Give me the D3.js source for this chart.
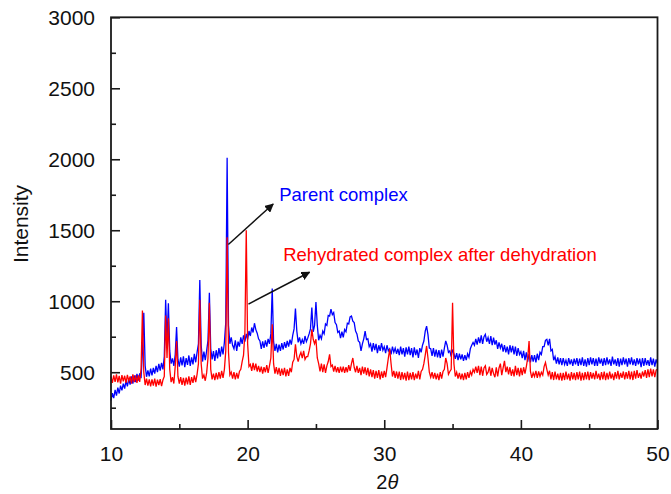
<!DOCTYPE html>
<html>
<head>
<meta charset="utf-8">
<script src="https://cdn.jsdelivr.net/npm/d3@7/dist/d3.min.js"></script>
<style>
  body { margin: 0; background: #fff; }
  text { font-family: "Liberation Sans", Arial, sans-serif; }
</style>
</head>
<body>
<script>
// scan grid (degrees 2-theta)
var angleStart = 10;
var angleStep = 0.1;

// parent complex, intensity every 0.1 deg from 10.0 to 50.0
var parentIntensity = [
  300, 352, 318, 375, 335, 392, 350, 405, 372, 420,
  385, 440, 400, 455, 412, 470, 420, 478, 430, 488,
  440, 492, 458, 640, 918, 545, 468, 512, 470, 525,
  478, 530, 490, 545, 500, 558, 512, 565, 520, 610,
  1010, 720, 985, 650, 560, 598, 545, 625, 818, 590,
  540, 605, 548, 612, 535, 600, 552, 618, 545, 605,
  555, 630, 570, 640, 700, 1150, 690, 575, 645, 585,
  650, 725, 1060, 665, 590, 648, 580, 655, 598, 670,
  610, 680, 625, 710, 850, 2010, 830, 700, 745, 690,
  665, 725, 650, 715, 680, 745, 700, 760, 715, 770,
  730, 790, 755, 815, 780, 845, 800, 775, 735, 720,
  665, 718, 672, 725, 680, 735, 700, 770, 1090, 715,
  650, 700, 640, 695, 650, 705, 660, 712, 672, 720,
  680, 730, 695, 760, 805, 948, 790, 710, 745, 700,
  730, 700, 755, 715, 740, 770, 805, 955, 785, 830,
  994, 830, 725, 760, 735, 790, 770, 840, 830, 900,
  895, 945, 905, 920, 850, 835, 780, 790, 740, 785,
  745, 800, 785, 845, 840, 890, 896, 860, 850, 790,
  770, 720, 710, 650, 700, 735, 790, 730, 735, 680,
  700, 645, 705, 655, 700, 635, 690, 650, 705, 655,
  680, 635, 690, 650, 665, 625, 680, 640, 670, 630,
  665, 620, 680, 625, 670, 610, 675, 625, 680, 620,
  670, 605, 675, 620, 660, 600, 670, 640, 690, 720,
  790, 825, 765, 670, 665, 615, 670, 610, 660, 605,
  655, 600, 660, 610, 670, 720, 690, 640, 650, 610,
  660, 630, 595, 635, 585, 630, 590, 625, 580, 620,
  585, 630, 605, 665, 690, 710, 690, 735, 695, 745,
  705, 760, 700, 750, 767, 715, 745, 700, 755, 690,
  744, 695, 725, 665, 710, 670, 700, 645, 690, 640,
  680, 625, 690, 640, 685, 625, 680, 615, 670, 625,
  645, 600, 650, 585, 640, 575, 630, 570, 620, 575,
  620, 570, 630, 585, 640, 625, 680, 680, 725, 732,
  690, 735, 650, 660, 585, 610, 560, 605, 555, 600,
  550, 600, 555, 585, 545, 600, 555, 590, 545, 595,
  555, 600, 545, 595, 550, 605, 545, 590, 540, 600,
  550, 605, 555, 600, 545, 595, 545, 605, 560, 595,
  545, 600, 550, 605, 555, 590, 545, 610, 555, 590,
  545, 600, 540, 595, 550, 605, 555, 595, 540, 600,
  555, 605, 550, 590, 545, 600, 555, 595, 535, 600,
  545, 600, 550, 585, 545, 605, 550, 595, 540, 590,
  560
];

// rehydrated complex after dehydration, same grid
var rehydratedIntensity = [
  470, 425, 478, 432, 485, 428, 475, 420, 480, 435,
  475, 425, 482, 438, 470, 420, 485, 430, 478, 425,
  478, 432, 520, 935, 500, 410, 455, 405, 450, 400,
  450, 405, 455, 398, 448, 410, 452, 402, 445, 470,
  900, 600, 880, 520, 430, 465, 420, 540, 720, 470,
  420, 465, 410, 460, 405, 462, 415, 470, 410, 465,
  425, 478, 430, 485, 560, 1010, 560, 455, 480, 440,
  495, 600, 990, 520, 450, 490, 445, 495, 450, 500,
  455, 510, 460, 520, 650, 1450, 640, 480, 500, 455,
  500, 450, 495, 455, 505, 520, 575, 620, 780, 1500,
  700, 540, 555, 510, 565, 515, 560, 505, 545, 500,
  540, 490, 535, 500, 550, 495, 545, 600, 837, 560,
  490, 535, 485, 530, 475, 525, 480, 530, 470, 520,
  475, 530, 500, 570, 590, 697, 610, 575, 615, 640,
  600, 650, 590, 610, 610, 650, 700, 802, 732, 700,
  732, 600, 560, 505, 560, 500, 555, 495, 545, 575,
  626, 540, 550, 505, 545, 500, 535, 495, 540, 500,
  540, 495, 535, 500, 550, 510, 560, 600, 535, 500,
  545, 495, 530, 480, 540, 490, 535, 480, 530, 470,
  520, 465, 515, 455, 510, 460, 515, 450, 505, 460,
  510, 465, 530, 600, 662, 560, 470, 510, 460, 505,
  455, 505, 445, 500, 450, 495, 440, 505, 445, 495,
  450, 500, 445, 490, 455, 510, 450, 505, 520, 560,
  620, 685, 600, 500, 465, 500, 455, 495, 450, 490,
  445, 500, 455, 505, 520, 600, 560, 485, 505, 520,
  990, 560, 470, 500, 455, 495, 450, 490, 445, 495,
  450, 500, 460, 505, 480, 520, 500, 540, 495, 545,
  480, 540, 475, 530, 545, 485, 500, 540, 475, 530,
  490, 465, 535, 470, 530, 560, 480, 530, 580, 500,
  540, 485, 535, 475, 520, 470, 545, 480, 530, 470,
  530, 480, 535, 490, 540, 600, 720, 505, 460, 495,
  470, 510, 460, 505, 470, 500, 480, 540, 568, 520,
  480, 510, 450, 500, 445, 505, 450, 490, 445, 495,
  440, 495, 445, 505, 450, 490, 440, 500, 450, 495,
  445, 500, 450, 505, 440, 495, 445, 500, 450, 505,
  445, 500, 455, 495, 450, 510, 455, 490, 445, 500,
  450, 505, 445, 495, 450, 505, 455, 490, 445, 500,
  455, 510, 450, 495, 460, 505, 450, 500, 455, 510,
  450, 505, 445, 510, 455, 515, 460, 495, 455, 505,
  470, 515, 460, 520, 465, 525, 470, 520, 465, 515,
  520
];

var xTicks = [10, 20, 30, 40, 50];
var yTicks = [500, 1000, 1500, 2000, 2500, 3000];

// annotations: label, arrow from (deg, I), arrow to (deg, I), text anchor (deg, I)
var notes = [
  { label: "Parent complex", color: "#0000ff", from: [18.59, 1400], to: [21.87, 1685], at: [22.31, 1706] },
  { label: "Rehydrated complex after dehydration", color: "#ff0000", from: [20.06, 980], to: [24.53, 1204], at: [22.6, 1283] }
];

var W = 671, H = 494;
var padL = 111, padR = 657.5, padT = 17.3, padB = 429;

var svg = d3.select("body").append("svg")
  .attr("width", W)
  .attr("height", H);

var x = d3.scaleLinear().domain([10, 50]).range([padL, padR]);
var y = d3.scaleLinear().domain([100, 3000]).range([padB, padT]);

svg.append("defs").append("marker")
  .attr("id", "head")
  .attr("viewBox", "0 0 10 10")
  .attr("refX", 9).attr("refY", 5)
  .attr("markerWidth", 9).attr("markerHeight", 9)
  .attr("markerUnits", "userSpaceOnUse")
  .attr("orient", "auto")
  .append("path")
  .attr("d", "M0,0 L10,5 L0,10 z")
  .attr("fill", "#111");

function toPoints(vals) {
  return vals.map(function(v, i) { return [angleStart + i * angleStep, v]; });
}

var line = d3.line()
  .x(function(d) { return x(d[0]); })
  .y(function(d) { return y(d[1]); });

var plot = svg.append("g");
plot.append("path")
  .datum(toPoints(parentIntensity))
  .attr("d", line)
  .attr("fill", "none")
  .attr("stroke", "#0000ff")
  .attr("stroke-width", 1.3);
plot.append("path")
  .datum(toPoints(rehydratedIntensity))
  .attr("d", line)
  .attr("fill", "none")
  .attr("stroke", "#ff0000")
  .attr("stroke-width", 1.3);

// frame
svg.append("rect")
  .attr("x", padL).attr("y", padT)
  .attr("width", padR - padL).attr("height", padB - padT)
  .attr("fill", "none")
  .attr("stroke", "#1a1a1a")
  .attr("stroke-width", 1.8);

// inward ticks
var xMinor = [15, 25, 35, 45];
var yMinor = [250, 750, 1250, 1750, 2250, 2750];

svg.append("g").attr("transform", "translate(0," + padB + ")")
  .call(d3.axisBottom(x).tickValues(xTicks).tickSize(-9).tickPadding(17).tickFormat(d3.format("d")));
svg.append("g").attr("transform", "translate(0," + padB + ")")
  .call(d3.axisBottom(x).tickValues(xMinor).tickSize(-5).tickFormat(""));
var ay = svg.append("g").attr("transform", "translate(" + padL + ",0)")
  .call(d3.axisLeft(y).tickValues(yTicks).tickSize(-9).tickPadding(16).tickFormat(d3.format("d")));
svg.append("g").attr("transform", "translate(" + padL + ",0)")
  .call(d3.axisLeft(y).tickValues(yMinor).tickSize(-5).tickFormat(""));

svg.selectAll(".domain").remove();
svg.selectAll(".tick line").attr("stroke", "#1a1a1a").attr("stroke-width", 1.6);
svg.selectAll(".tick text")
  .attr("font-family", "Liberation Sans, Arial, sans-serif")
  .attr("font-size", 21)
  .attr("fill", "#111");
ay.selectAll(".tick text").attr("dy", "0.36em");

// axis titles
svg.append("text")
  .attr("transform", "translate(28,224) rotate(-90)")
  .attr("text-anchor", "middle")
  .attr("font-size", 21)
  .attr("fill", "#111")
  .text("Intensity");

var xt = svg.append("text")
  .attr("x", (padL + padR) / 2 + 3)
  .attr("y", 489)
  .attr("text-anchor", "middle")
  .attr("font-family", "Liberation Serif, Times New Roman, serif")
  .attr("font-size", 20)
  .attr("fill", "#111");
xt.append("tspan").text("2");
xt.append("tspan").attr("font-style", "italic").text("θ");

// annotations
notes.forEach(function(n) {
  svg.append("line")
    .attr("x1", x(n.from[0])).attr("y1", y(n.from[1]))
    .attr("x2", x(n.to[0])).attr("y2", y(n.to[1]))
    .attr("stroke", "#111")
    .attr("stroke-width", 1.5)
    .attr("marker-end", "url(#head)");
  svg.append("text")
    .attr("x", x(n.at[0])).attr("y", y(n.at[1]))
    .attr("font-size", 18.5)
    .attr("fill", n.color)
    .text(n.label);
});
</script>
</body>
</html>
